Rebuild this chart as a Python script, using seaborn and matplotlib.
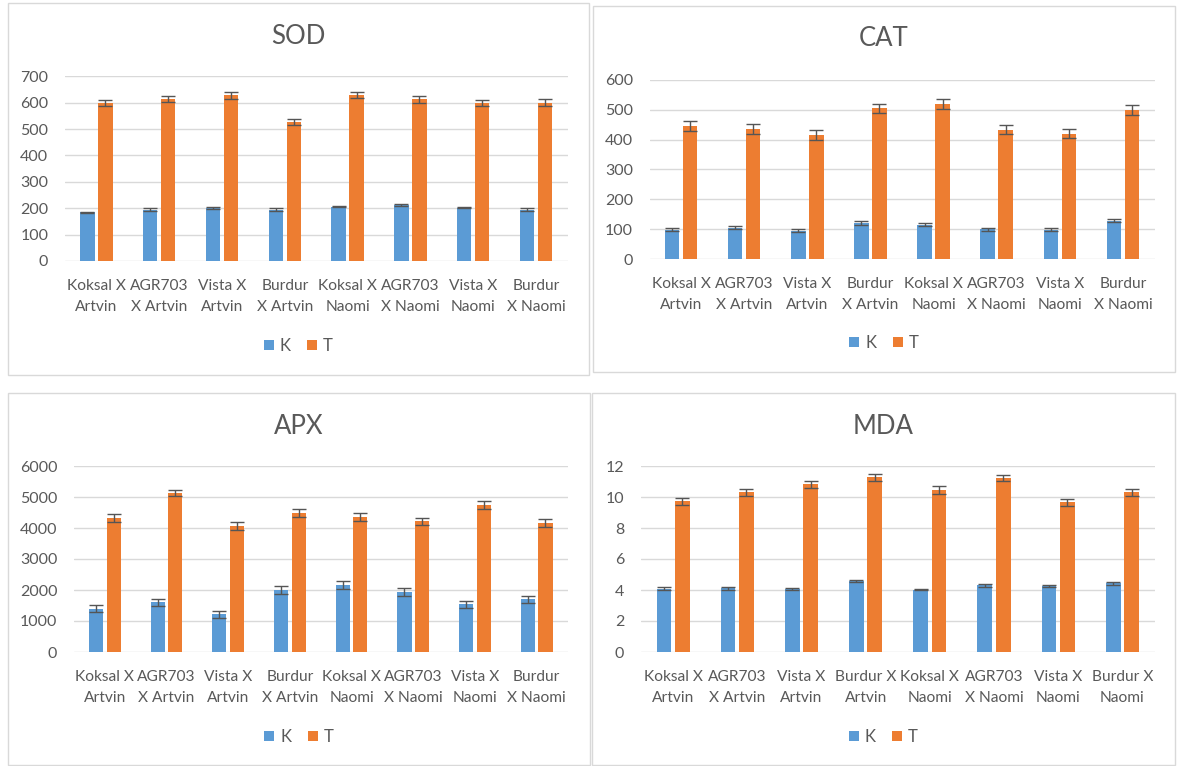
import matplotlib
matplotlib.use("Agg")
import matplotlib.pyplot as plt
from matplotlib.patches import Patch, Rectangle
import numpy as np
import pandas as pd
import seaborn as sns

# Crosses (categories) and the two treatment groups
crosses = ["Koksal X Artvin", "AGR703 X Artvin", "Vista X Artvin", "Burdur X Artvin",
           "Koksal X Naomi", "AGR703 X Naomi", "Vista X Naomi", "Burdur X Naomi"]
groups = ["K", "T"]

# Two-line tick labels (MDA breaks the Burdur labels differently)
labels_std = ["Koksal X\nArtvin", "AGR703\nX Artvin", "Vista X\nArtvin", "Burdur\nX Artvin",
              "Koksal X\nNaomi", "AGR703\nX Naomi", "Vista X\nNaomi", "Burdur\nX Naomi"]
labels_mda = ["Koksal X\nArtvin", "AGR703\nX Artvin", "Vista X\nArtvin", "Burdur X\nArtvin",
              "Koksal X\nNaomi", "AGR703\nX Naomi", "Vista X\nNaomi", "Burdur X\nNaomi"]

# SOD
sod_k = [184, 195, 200, 195, 205, 212, 202, 195]
sod_t = [598, 614, 628, 526, 628, 613, 598, 600]
sod_k_err = [2, 4, 4, 4, 2, 5, 2, 4]
sod_t_err = [12, 13, 13, 11, 12, 13, 12, 13]

# CAT
cat_k = [99, 105, 96, 121, 115, 101, 99, 128]
cat_t = [446, 436, 416, 504, 518, 433, 420, 498]
cat_k_err = [5, 5, 4, 6, 5, 5, 5, 5]
cat_t_err = [16, 16, 16, 16, 16, 16, 16, 16]

# APX
apx_k = [1400, 1602, 1215, 2000, 2150, 1935, 1538, 1699]
apx_t = [4333, 5129, 4065, 4484, 4355, 4215, 4742, 4161]
apx_k_err = [120, 115, 115, 120, 125, 120, 120, 120]
apx_t_err = [125, 110, 115, 125, 115, 120, 120, 115]

# MDA
mda_k = [4.09, 4.10, 4.04, 4.56, 4.02, 4.30, 4.24, 4.43]
mda_t = [9.72, 10.30, 10.82, 11.27, 10.45, 11.23, 9.66, 10.30]
mda_k_err = [0.09, 0.07, 0.07, 0.07, 0.05, 0.09, 0.07, 0.09]
mda_t_err = [0.24, 0.24, 0.24, 0.24, 0.23, 0.18, 0.24, 0.24]

BLUE = "#5B9BD5"
ORANGE = "#ED7D31"
TEXT = "#595959"
GRID = "#D9D9D9"

W, H = 1177, 766
sns.set_theme(style="white")
plt.rcParams["font.family"] = ["Lato", "DejaVu Sans"]

fig = plt.figure(figsize=(W / 100, H / 100), dpi=100)
fig.patch.set_facecolor("white")


def fx(x):
    return x / W


def fy(y):
    return 1 - y / H


panels = [
    # title, k, t, k_err, t_err, labels, yticks, box(px), axes(px: l, r, top, bottom), title_y, legend_y
    ("SOD", sod_k, sod_t, sod_k_err, sod_t_err, labels_std, np.arange(0, 701, 100),
     (8, 3.5, 589, 375), (65, 567.5, 76.3, 261), 36, 346),
    ("CAT", cat_k, cat_t, cat_k_err, cat_t_err, labels_std, np.arange(0, 601, 100),
     (593, 6, 1175, 372), (649.5, 1154.5, 79.7, 259.3), 39, 343),
    ("APX", apx_k, apx_t, apx_k_err, apx_t_err, labels_std, np.arange(0, 6001, 1000),
     (8, 393, 590, 765), (74, 567.5, 466, 652), 426, 737),
    ("MDA", mda_k, mda_t, mda_k_err, mda_t_err, labels_mda, np.arange(0, 13, 2),
     (592, 393, 1175, 765), (641, 1154.5, 466, 652), 426, 737),
]

for title, kv, tv, ke, te, labels, yticks, box, axpx, ty, ly in panels:
    bx0, by0, bx1, by1 = box
    fig.patches.append(Rectangle((fx(bx0), fy(by1)), fx(bx1 - bx0), (by1 - by0) / H,
                                 transform=fig.transFigure, facecolor="none",
                                 edgecolor=GRID, linewidth=1.0, zorder=-5))
    l, r, t, b = axpx
    ax = fig.add_axes([fx(l), fy(b), (r - l) / W, (b - t) / H])
    ax.set_facecolor("none")

    df = pd.DataFrame({
        "cross": crosses * 2,
        "group": ["K"] * len(crosses) + ["T"] * len(crosses),
        "value": list(kv) + list(tv),
    })
    err = {("K", c): e for c, e in zip(crosses, ke)}
    err.update({("T", c): e for c, e in zip(crosses, te)})
    vals = {("K", c): v for c, v in zip(crosses, kv)}
    vals.update({("T", c): v for c, v in zip(crosses, tv)})

    sns.barplot(data=df, x="cross", y="value", hue="group", order=crosses,
                hue_order=groups, palette=[BLUE, ORANGE], width=0.573, gap=0.2,
                errorbar=None, legend=False, ax=ax, linewidth=0, saturation=1)

    # error bars at the centre of each drawn bar
    for p in list(ax.patches):
        xc = p.get_x() + p.get_width() / 2
        idx = int(round(xc))
        grp = "K" if xc < idx else "T"
        c = crosses[idx]
        ax.errorbar(xc, vals[(grp, c)], yerr=err[(grp, c)], fmt="none",
                    ecolor="#555555", elinewidth=1.0, capsize=5.0, capthick=1.0, zorder=5)

    ax.set_ylim(yticks[0], yticks[-1])
    ax.set_xlim(-0.5, len(crosses) - 0.5)
    ax.set_yticks(yticks)
    ax.set_yticklabels([str(v) for v in yticks])
    ax.set_xticks(range(len(crosses)))
    ax.set_xticklabels(labels, linespacing=1.6)
    ax.yaxis.grid(True, color=GRID, linewidth=1.0)
    ax.xaxis.grid(False)
    ax.set_axisbelow(True)
    for s in ax.spines.values():
        s.set_visible(False)
    ax.tick_params(axis="y", length=0, pad=12, labelsize=11.5, labelcolor=TEXT)
    ax.tick_params(axis="x", length=0, pad=13, labelsize=11.2, labelcolor=TEXT)
    ax.set_xlabel("")
    ax.set_ylabel("")

    cx = (bx0 + bx1) / 2
    fig.text(fx(cx), fy(ty), title, ha="center", va="center", fontsize=18.5, color=TEXT)
    handles = [Patch(facecolor=BLUE, edgecolor="none"), Patch(facecolor=ORANGE, edgecolor="none")]
    fig.legend(handles, groups, loc="center", bbox_to_anchor=(fx(cx), fy(ly)), ncol=2,
               frameon=False, handlelength=0.6, handleheight=0.6, handletextpad=0.35,
               columnspacing=1.0, fontsize=12, labelcolor=TEXT)

fig.savefig("out.png", dpi=100, facecolor="white")
